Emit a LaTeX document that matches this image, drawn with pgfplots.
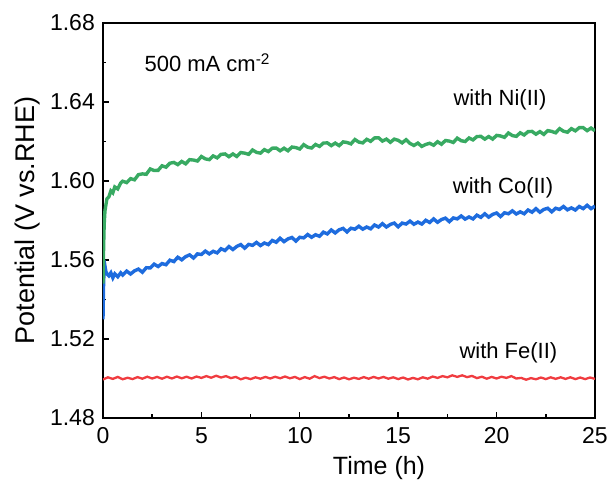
\documentclass[border=0pt]{standalone}
\usepackage{fontspec}
\setmainfont{Liberation Sans}
\usepackage{pgfplots}
\pgfplotsset{compat=1.18}

\definecolor{niGreen}{RGB}{56,170,98}
\definecolor{coBlue}{RGB}{30,108,222}
\definecolor{feRed}{RGB}{240,60,64}

\begin{document}
\begin{tikzpicture}
\begin{axis}[
    name=ax,
    scale only axis,
    width=492pt, height=395pt,
    xmin=0, xmax=25,
    ymin=1.48, ymax=1.68,
    xtick={0,5,10,15,20,25},
    ytick={1.48,1.52,1.56,1.60,1.64,1.68},
    minor x tick num=1,
    minor y tick num=1,
    tick align=inside,
    xtick pos=lower, ytick pos=left,
    major tick length=6pt, minor tick length=3.5pt,
    every tick/.style={black, line width=1.4pt},
    axis line style={line width=1.6pt},
    font=\fontsize{22}{26}\selectfont,
    tick label style={font=\fontsize{23}{27}\selectfont, inner sep=0pt},
    /pgf/number format/assume math mode=true,
    yticklabel style={anchor=east, xshift=-8pt, /pgf/number format/.cd, fixed, fixed zerofill, precision=2},
    xticklabel style={anchor=base, yshift=-26pt},
    xlabel={Time (h)},
    ylabel={Potential (V vs.RHE)},
    xlabel style={at={(axis description cs:0.561,-0.1418)}, anchor=base, inner sep=0pt, font=\fontsize{25}{29}\selectfont},
    ylabel style={at={(axis description cs:-0.140,0.5)}, anchor=base, inner sep=0pt, font=\fontsize{27}{31}\selectfont},
    clip=true,
]
% Fe(II)
\addplot[feRed, line width=2.3pt] coordinates {
(0,1.4995) (0.25,1.5006) (0.5,1.4998) (0.75,1.5008) (1,1.4996) (1.25,1.5004) (1.5,1.4997) (1.75,1.5007)
(2,1.4999) (2.25,1.5009) (2.5,1.5000) (2.75,1.5008) (3,1.4999) (3.25,1.5009) (3.5,1.5000) (3.75,1.5010)
(4,1.5001) (4.25,1.5009) (4.5,1.5000) (4.75,1.5010) (5,1.5003) (5.25,1.5012) (5.5,1.5004) (5.75,1.5014)
(6,1.5005) (6.25,1.5012) (6.5,1.5002) (6.75,1.5008) (7,1.4996) (7.25,1.5004) (7.5,1.4997) (7.75,1.5006)
(8,1.4999) (8.25,1.5008) (8.5,1.5000) (8.75,1.5009) (9,1.5001) (9.25,1.5010) (9.5,1.5001) (9.75,1.5008)
(10,1.4997) (10.25,1.5007) (10.5,1.4999) (10.75,1.5012) (11,1.5002) (11.25,1.5009) (11.5,1.5000) (11.75,1.5007)
(12,1.4997) (12.25,1.5005) (12.5,1.4996) (12.75,1.5004) (13,1.4998) (13.25,1.5007) (13.5,1.4999) (13.75,1.5008)
(14,1.5000) (14.25,1.5008) (14.5,1.4999) (14.75,1.5006) (15,1.4997) (15.25,1.5005) (15.5,1.4995) (15.75,1.5003)
(16,1.4996) (16.25,1.5006) (16.5,1.4999) (16.75,1.5010) (17,1.5003) (17.25,1.5012) (17.5,1.5006) (17.75,1.5016)
(18,1.5008) (18.25,1.5016) (18.5,1.5007) (18.75,1.5013) (19,1.5002) (19.25,1.5009) (19.5,1.4999) (19.75,1.5008)
(20,1.5000) (20.25,1.5009) (20.5,1.5003) (20.75,1.5012) (21,1.5000) (21.25,1.5003) (21.5,1.4994) (21.75,1.5002)
(22,1.4996) (22.25,1.5005) (22.5,1.4997) (22.75,1.5006) (23,1.4998) (23.25,1.5006) (23.5,1.4998) (23.75,1.5006)
(24,1.4997) (24.25,1.5005) (24.5,1.4997) (24.75,1.5005) (25,1.4998)
};
% Co(II)
\addplot[coBlue, line width=3.4pt] coordinates {
(0,1.530) (0.03,1.548) (0.06,1.556) (0.1,1.557) (0.15,1.554) (0.2,1.553) (0.3,1.552) (0.4,1.5535)
(0.5,1.551) (0.6,1.553) (0.75,1.5515) (0.9,1.5535)
(1.0,1.5524) (1.2,1.5544) (1.4,1.5529) (1.6,1.5545) (1.8,1.5554) (2.0,1.5538) (2.2,1.5561) (2.4,1.5560)
(2.6,1.5579) (2.8,1.5567) (3.0,1.5582) (3.2,1.5576) (3.4,1.5599) (3.6,1.5592) (3.8,1.5614) (4.0,1.5601)
(4.2,1.5617) (4.4,1.5626) (4.6,1.5610) (4.8,1.5631) (5.0,1.5628) (5.2,1.5645) (5.4,1.5631) (5.6,1.5644)
(5.8,1.5636) (6.0,1.5657) (6.2,1.5648) (6.4,1.5668) (6.6,1.5653) (6.8,1.5669) (7.0,1.5678) (7.2,1.5660)
(7.4,1.5679) (7.6,1.5674) (7.8,1.5689) (8.0,1.5673) (8.2,1.5686) (8.4,1.5678) (8.6,1.5699) (8.8,1.5690)
(9.0,1.5710) (9.2,1.5693) (9.4,1.5707) (9.6,1.5714) (9.8,1.5696) (10.0,1.5715) (10.2,1.5712) (10.4,1.5729)
(10.6,1.5715) (10.8,1.5728) (11.0,1.5720) (11.2,1.5741) (11.4,1.5732) (11.6,1.5752) (11.8,1.5737) (12.0,1.5753)
(12.2,1.5760) (12.4,1.5742) (12.6,1.5761) (12.8,1.5756) (13.0,1.5771) (13.2,1.5756) (13.4,1.5767) (13.6,1.5758)
(13.8,1.5777) (14.0,1.5767) (14.2,1.5784) (14.4,1.5767) (14.6,1.5780) (14.8,1.5787) (15.0,1.5768) (15.2,1.5787)
(15.4,1.5782) (15.6,1.5797) (15.8,1.5781) (16.0,1.5792) (16.2,1.5782) (16.4,1.5801) (16.6,1.5790) (16.8,1.5808)
(17.0,1.5791) (17.2,1.5805) (17.4,1.5812) (17.6,1.5794) (17.8,1.5813) (18.0,1.5808) (18.2,1.5823) (18.4,1.5807)
(18.6,1.5818) (18.8,1.5808) (19.0,1.5827) (19.2,1.5816) (19.4,1.5834) (19.6,1.5817) (19.8,1.5831) (20.0,1.5838)
(20.2,1.5820) (20.4,1.5839) (20.6,1.5834) (20.8,1.5849) (21.0,1.5833) (21.2,1.5844) (21.4,1.5834) (21.6,1.5853)
(21.8,1.5842) (22.0,1.5860) (22.2,1.5842) (22.4,1.5856) (22.6,1.5862) (22.8,1.5844) (23.0,1.5862) (23.2,1.5856)
(23.4,1.5871) (23.6,1.5854) (23.8,1.5864) (24.0,1.5853) (24.2,1.5871) (24.4,1.5860) (24.6,1.5877) (24.8,1.5860)
(25.0,1.5873)
};
% Ni(II)
\addplot[niGreen, line width=3.4pt] coordinates {
(0,1.548) (0.03,1.566) (0.06,1.578) (0.1,1.585) (0.15,1.588) (0.2,1.591) (0.3,1.592) (0.4,1.595)
(0.5,1.594) (0.6,1.597) (0.75,1.596) (0.9,1.599)
(1.0,1.5999) (1.2,1.5992) (1.4,1.6012) (1.6,1.6006) (1.8,1.6032) (2.0,1.6036) (2.2,1.6034) (2.4,1.6061)
(2.6,1.6053) (2.8,1.6054) (3.0,1.6077) (3.2,1.6070) (3.4,1.6090) (3.6,1.6094) (3.8,1.6083) (4.0,1.6099)
(4.2,1.6087) (4.4,1.6108) (4.6,1.6106) (4.8,1.6101) (5.0,1.6124) (5.2,1.6112) (5.4,1.6108) (5.6,1.6127)
(5.8,1.6117) (6.0,1.6135) (6.2,1.6137) (6.4,1.6123) (6.6,1.6137) (6.8,1.6124) (7.0,1.6144) (7.2,1.6141)
(7.4,1.6135) (7.6,1.6157) (7.8,1.6145) (8.0,1.6141) (8.2,1.6159) (8.4,1.6149) (8.6,1.6166) (8.8,1.6167)
(9.0,1.6153) (9.2,1.6166) (9.4,1.6153) (9.6,1.6172) (9.8,1.6169) (10.0,1.6162) (10.2,1.6184) (10.4,1.6171)
(10.6,1.6167) (10.8,1.6185) (11.0,1.6175) (11.2,1.6192) (11.4,1.6193) (11.6,1.6179) (11.8,1.6192) (12.0,1.6179)
(12.2,1.6198) (12.4,1.6195) (12.6,1.6188) (12.8,1.6210) (13.0,1.6197) (13.2,1.6193) (13.4,1.6211) (13.6,1.6201)
(13.8,1.6218) (14.0,1.6219) (14.2,1.6202) (14.4,1.6212) (14.6,1.6196) (14.8,1.6212) (15.0,1.6206) (15.2,1.6193)
(15.4,1.6209) (15.6,1.6190) (15.8,1.6180) (16.0,1.6192) (16.2,1.6175) (16.4,1.6185) (16.6,1.6191) (16.8,1.6181)
(17.0,1.6199) (17.2,1.6186) (17.4,1.6205) (17.6,1.6202) (17.8,1.6195) (18.0,1.6217) (18.2,1.6204) (18.4,1.6200)
(18.6,1.6218) (18.8,1.6208) (19.0,1.6225) (19.2,1.6226) (19.4,1.6212) (19.6,1.6225) (19.8,1.6212) (20.0,1.6231)
(20.2,1.6228) (20.4,1.6221) (20.6,1.6243) (20.8,1.6230) (21.0,1.6226) (21.2,1.6244) (21.4,1.6233) (21.6,1.6250)
(21.8,1.6251) (22.0,1.6237) (22.2,1.6250) (22.4,1.6236) (22.6,1.6255) (22.8,1.6251) (23.0,1.6244) (23.2,1.6265)
(23.4,1.6252) (23.6,1.6247) (23.8,1.6265) (24.0,1.6254) (24.2,1.6270) (24.4,1.6270) (24.6,1.6255) (24.8,1.6268)
(25.0,1.6254)
};
\node at (axis cs:5.3,1.660) {500 mA cm\textsuperscript{-2}};
\node at (axis cs:20.17,1.641) {with Ni(II)};
\node at (axis cs:20.33,1.5965) {with Co(II)};
\node at (axis cs:20.6,1.5129) {with Fe(II)};
\end{axis}
\pgfresetboundingbox
\path[use as bounding box] ([xshift=-103pt,yshift=-66pt]ax.south west) rectangle ([xshift=21pt,yshift=23pt]ax.north east);
\end{tikzpicture}
\end{document}
